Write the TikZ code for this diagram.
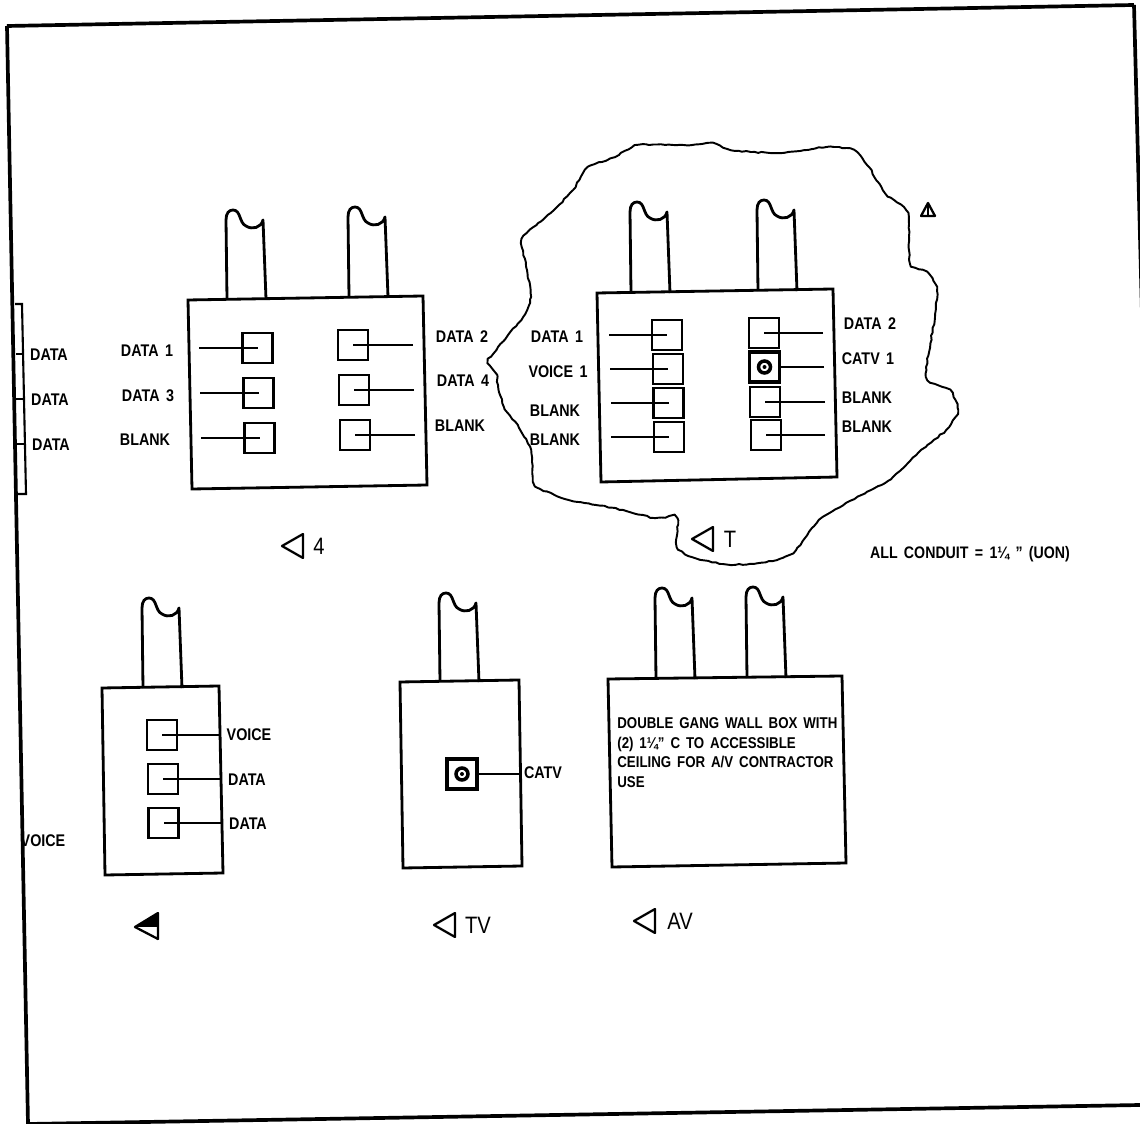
\documentclass[tikz,border=0pt]{standalone}
\usepackage{fontspec}
\setmainfont[FakeStretch=0.85,WordSpace=1.6]{Liberation Sans}
\usetikzlibrary{decorations.pathmorphing}
\tikzset{
  frameline/.style={line width=2.1pt},
  wall/.style={line width=1.6pt},
  lead/.style={line width=1.1pt},
  jack/.style={draw,line width=1.5pt,minimum size=0.6cm,inner sep=0pt},
  coax/.style={jack,line width=1.8pt},
  ring/.style={line width=2pt},
  lbl/.style={inner sep=0pt,font=\fontsize{9.6}{11.3}\selectfont\bfseries},
  taglbl/.style={inner sep=0pt,font=\fontsize{13.5}{15}\selectfont},
  cloud/.style={line width=1.1pt,line join=round,decorate,decoration={random steps,segment length=2.2pt,amplitude=0.4pt}}
}
\newcommand{\conduit}[3]{\draw[wall,line join=round] (#1,#3) -- (#1-1,#2+10) .. controls (#1-1,#2+3) and (#1+2,#2) .. (#1+6,#2) .. controls (#1+14,#2) and (#1+12,#2+13) .. (#1+19,#2+16) .. controls (#1+25,#2+20) and (#1+34,#2+18) .. (#1+36,#2+10) -- (#1+39,#3);}
\newcommand{\tagmark}[3]{\draw[line width=1.3pt,line join=round] (#1,#2) -- (#1+21,#2-#3) -- (#1+21,#2+#3) -- cycle;}
\begin{document}
\begin{tikzpicture}[x=0.02cm,y=-0.02cm]
\useasboundingbox (0,0) rectangle (1140,1124);
%sheet frame
\draw[frameline] (7,26)--(1134,5);
\draw[frameline] (1134,5)--(1163,1124);
\draw[frameline] (7,26)--(28,1124);
\draw[frameline] (28,1124)--(1140,1105);
%strip on the frame
\draw[line width=1.2pt] (15,304)--(22,304)--(26,494)--(17,494);
\draw[line width=0.7pt] (16,354)--(22,354);
\draw[line width=0.7pt] (16,399)--(23,399);
\draw[line width=0.7pt] (17,444)--(24,444);
\node[lbl] (stripa) at(49, 355) {DATA};
\node[lbl] (stripb) at(50, 400) {DATA};
\node[lbl] (stripc) at(51, 445) {DATA};
\node[lbl] (stripd) at(43, 841) {VOICE};
%box 4
\draw[wall] (188,300)--(423,296)--(427,485)--(192,489)--cycle;
\conduit{227}{210}{299}
\conduit{349}{207}{297}
\node[jack] (fa) at(257.5, 348) {};
\node[jack] (fb) at(258.5, 393) {};
\node[jack] (fc) at(259.5, 438) {};
\node[jack] (fd) at(353, 345) {};
\node[jack] (fe) at(354, 390) {};
\node[jack] (ff) at(355, 435) {};
\coordinate (fla) at(199, 348);
\coordinate (flb) at(200, 393);
\coordinate (flc) at(201, 438);
\coordinate (fld) at(413, 345);
\coordinate (fle) at(414, 390);
\coordinate (flf) at(415, 435);
\draw[lead] (fla)--(fa.center);
\draw[lead] (flb)--(fb.center);
\draw[lead] (flc)--(fc.center);
\draw[lead] (fld)--(fd.center);
\draw[lead] (fle)--(fe.center);
\draw[lead] (flf)--(ff.center);
\node[lbl] (ftxa) at(147, 351) {DATA 1};
\node[lbl] (ftxb) at(148, 396) {DATA 3};
\node[lbl] (ftxc) at(145, 440) {BLANK};
\node[lbl] (ftxd) at(462, 337) {DATA 2};
\node[lbl] (ftxe) at(463, 381) {DATA 4};
\node[lbl] (ftxf) at(460, 426) {BLANK};
\tagmark{282}{546}{12}
\node[taglbl] (ftag) at(319, 546) {4};
%revision cloud
\draw[cloud] plot[smooth cycle,tension=0.35] coordinates {(677,518) (654,518) (623,510) (596,505) (569,500) (538,488) (533,477) (531,450) (519,428) (504,407) (498,385) (497,375) (488,363) (498,347) (508,335) (523,317) (531,297) (527,270) (521,243) (527,233) (554,210) (573,190) (588,167) (615,157) (638,145) (692,145) (713,143) (731,150) (777,153) (827,147) (854,150) (869,167) (885,193) (908,213) (910,263) (927,272) (937,287) (935,317) (926,377) (950,390) (958,410) (946,430) (921,450) (908,463) (885,483) (846,503) (819,520) (796,550) (777,560) (731,565) (692,557) (677,547)};
%warning mark
\draw[line width=1.3pt,line join=round] (928,203)--(935,216)--(921,216)--cycle;
\draw[line width=0.7pt] (928,206)--(928,216);
%box T
\draw[wall] (597,293)--(833,289)--(837,477)--(601,482)--cycle;
\conduit{631}{202}{293}
\conduit{758}{200}{291}
\node[jack] (ta) at(667, 335) {};
\node[jack] (tb) at(668, 369) {};
\node[jack] (tc) at(668.5, 403) {};
\node[jack] (td) at(669, 437) {};
\node[jack] (te) at(764, 333) {};
\node[coax] (tf) at(764.5, 367) {};
\node[jack] (tg) at(765, 402) {};
\node[jack] (th) at(766, 435) {};
\draw[ring] (tf.center) circle (6);
\fill (tf.center) circle (2);
\coordinate (tla) at(609, 335);
\coordinate (tlb) at(610, 369);
\coordinate (tlc) at(611, 403);
\coordinate (tld) at(611, 437);
\coordinate (tle) at(823, 333);
\coordinate (tlf) at(824, 367);
\coordinate (tlg) at(825, 402);
\coordinate (tlh) at(825, 435);
\draw[lead] (tla)--(ta.center);
\draw[lead] (tlb)--(tb.center);
\draw[lead] (tlc)--(tc.center);
\draw[lead] (tld)--(td.center);
\draw[lead] (tle)--(te.center);
\draw[lead] (tlf)--(tf.east);
\draw[lead] (tlg)--(tg.center);
\draw[lead] (tlh)--(th.center);
\node[lbl] (ttxa) at(557, 337) {DATA 1};
\node[lbl] (ttxb) at(558, 372) {VOICE 1};
\node[lbl] (ttxc) at(555, 411) {BLANK};
\node[lbl] (ttxd) at(555, 440) {BLANK};
\node[lbl] (ttxe) at(870, 324) {DATA 2};
\node[lbl] (ttxf) at(868, 359) {CATV 1};
\node[lbl] (ttxg) at(867, 398) {BLANK};
\node[lbl] (ttxh) at(867, 427) {BLANK};
\tagmark{692}{539}{12}
\node[taglbl] (ttag) at(730, 539) {T};
\node[lbl,font=\fontsize{9.5}{11}\selectfont\bfseries] (conduitnote) at(970, 554) {ALL CONDUIT = 1¼ " (UON)};
%box 6
\draw[wall] (102,688)--(219,686)--(223,873)--(105,875)--cycle;
\conduit{143}{598}{688}
\node[jack] (sa) at(162, 735) {};
\node[jack] (sb) at(163, 779) {};
\node[jack] (sc) at(163.5, 823) {};
\coordinate (sla) at(219, 735);
\coordinate (slb) at(220, 779);
\coordinate (slc) at(221, 823);
\draw[lead] (sla)--(sa.center);
\draw[lead] (slb)--(sb.center);
\draw[lead] (slc)--(sc.center);
\node[lbl] (stxa) at(249, 735) {VOICE};
\node[lbl] (stxb) at(247, 780) {DATA};
\node[lbl] (stxc) at(248, 824) {DATA};
\draw[line width=1.3pt,line join=round] (135,927)--(158,939)--(158,913)--cycle;
\fill (135,927)--(158,913)--(158,927)--cycle;
%box TV
\draw[wall] (400,682)--(519,680)--(522,866)--(403,868)--cycle;
\conduit{440}{593}{682}
\node[coax] (va) at(462, 774) {};
\draw[ring] (va.center) circle (6);
\fill (va.center) circle (2);
\coordinate (vla) at(519, 774);
\draw[lead] (vla)--(va.east);
\node[lbl] (vtxa) at(543, 773) {CATV};
\tagmark{434}{925}{12}
\node[taglbl] (vtag) at(478, 925) {TV};
%box AV
\draw[wall] (608,679)--(842,676)--(846,863)--(612,867)--cycle;
\conduit{656}{588}{679}
\conduit{747}{587}{678}
\node[lbl,font=\fontsize{8.9}{11.3}\selectfont\bfseries,anchor=north west,align=left] (avtxt) at(617, 717) {DOUBLE GANG WALL BOX WITH\\(2) 1¼" C TO ACCESSIBLE\\CEILING FOR A/V CONTRACTOR\\USE};
\tagmark{634}{921}{12}
\node[taglbl] (avtag) at(680, 921) {AV};
\end{tikzpicture}
\end{document}
